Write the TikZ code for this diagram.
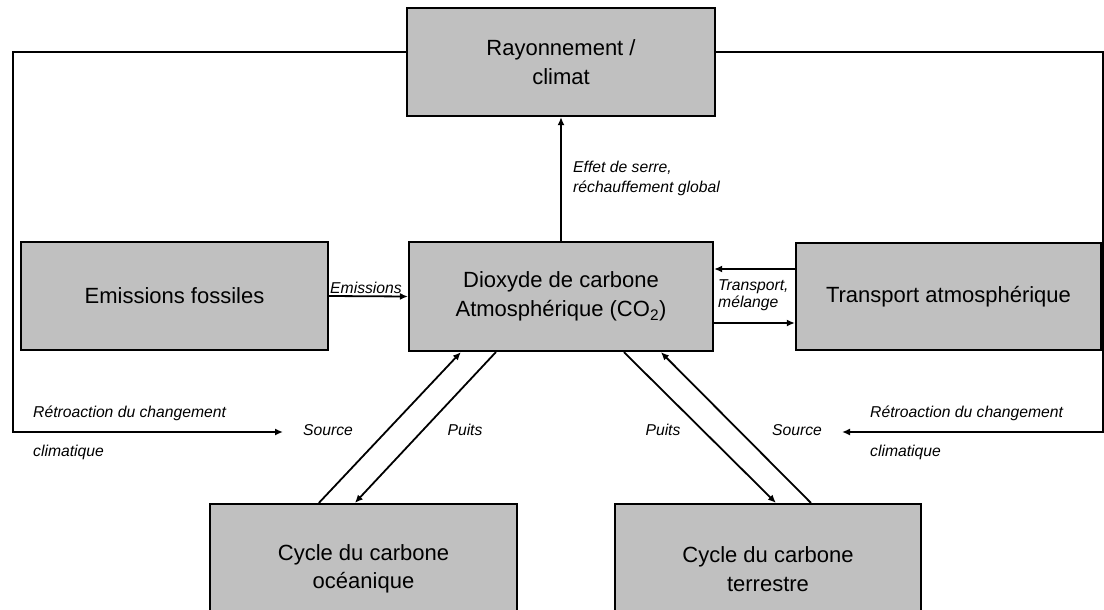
\documentclass[tikz,border=0pt]{standalone}
\usepackage{fontspec}
\setmainfont{Liberation Sans}
\usetikzlibrary{arrows.meta,positioning,calc}
\definecolor{boxgray}{RGB}{192,192,192}

\begin{document}
\begin{tikzpicture}[x=1pt,y=-1pt]
    \tikzstyle{block}=[rectangle,draw,line width=2.2pt,fill=boxgray,align=center,inner sep=0pt,font=\fontsize{22}{28.5}\selectfont]
    \tikzstyle{lbl}=[font=\fontsize{15.7}{20}\selectfont\itshape,inner sep=0pt,align=left]
    \tikzstyle{fbtext}=[lbl,font=\fontsize{15.7}{39}\selectfont\itshape]

    \tikzstyle{every edge}=[draw,line width=1.8pt,-{Latex[length=8pt,width=7pt]}]
    \tikzstyle{flow}=[line width=1.8pt,-{Latex[length=8pt,width=7pt]}]

    \useasboundingbox (0,0) rectangle (1104,610);

    % boxes
    \node[block,minimum width=308pt,minimum height=108pt] (clim)   at (561,62)    {Rayonnement /\\climat};
    \node[block,minimum width=304pt,minimum height=109pt] (co2)    at (561,296.5) {Dioxyde de carbone\\Atmosphérique (CO\textsubscript{2})};
    \node[block,minimum width=307pt,minimum height=108pt] (fossil) at (174.5,296)  {Emissions fossiles};
    \node[block,minimum width=305pt,minimum height=107pt] (transp) at (948.5,296.5) {Transport atmosphérique};
    \node[block,minimum width=307pt,minimum height=130pt] (ocean)  at (363.5,569) {Cycle du carbone\\océanique};
    \node[block,minimum width=306pt,minimum height=130pt] (land)   at (768,569)   {Cycle du carbone\\terrestre};

    % labels
    \node[lbl,anchor=west] (ghg) at (573,178) {Effet de serre,\\réchauffement global};
    \node[lbl,anchor=base] (emis) at (366,293) {Emissions};
    \node[lbl,anchor=west,font=\fontsize{15.7}{17}\selectfont\itshape] (mix) at (718,295) {Transport,\\mélange};
    \node[lbl] (srcO) at (328,430) {Source};
    \node[lbl] (sinkO) at (465,430) {Puits};
    \node[lbl] (sinkL) at (663,430) {Puits};
    \node[lbl] (srcL) at (797,430) {Source};
    \node[fbtext,anchor=west] (fbtxtL) at (33,432.5) {Rétroaction du changement\\climatique};
    \node[fbtext,anchor=west] (fbtxtR) at (870,432.5) {Rétroaction du changement\\climatique};

    % fluxes
    \path (co2.north) edge (clim.south);
    \path (fossil.east) edge (co2.west);
    \path ([yshift=27.5pt]transp.west) edge ([yshift=27.5pt]co2.east);
    \path ([yshift=-26.5pt]co2.east) edge ([yshift=-26.5pt]transp.west);

    \path ($(ocean.north west)+(110,0)$) edge ($(co2.south west)+(53,0)$);
    \path ($(co2.south west)+(88,0)$) edge ($(ocean.north west)+(146,0)$);
    \path ($(co2.south west)+(216,0)$) edge ($(land.north west)+(162,0)$);
    \path ($(land.north west)+(197,0)$) edge ($(co2.south west)+(253,0)$);

    % feedback loops
    \coordinate (fbL) at (13,432);
    \coordinate (fbLend) at (283,432);
    \coordinate (fbR) at (1103,432);
    \coordinate (fbRend) at (842,432);
    \draw[flow] ([yshift=10pt]clim.west) -| (fbL) -- (fbLend);
    \draw[flow] ([yshift=10pt]clim.east) -| (fbR) -- (fbRend);
\end{tikzpicture}
\end{document}
